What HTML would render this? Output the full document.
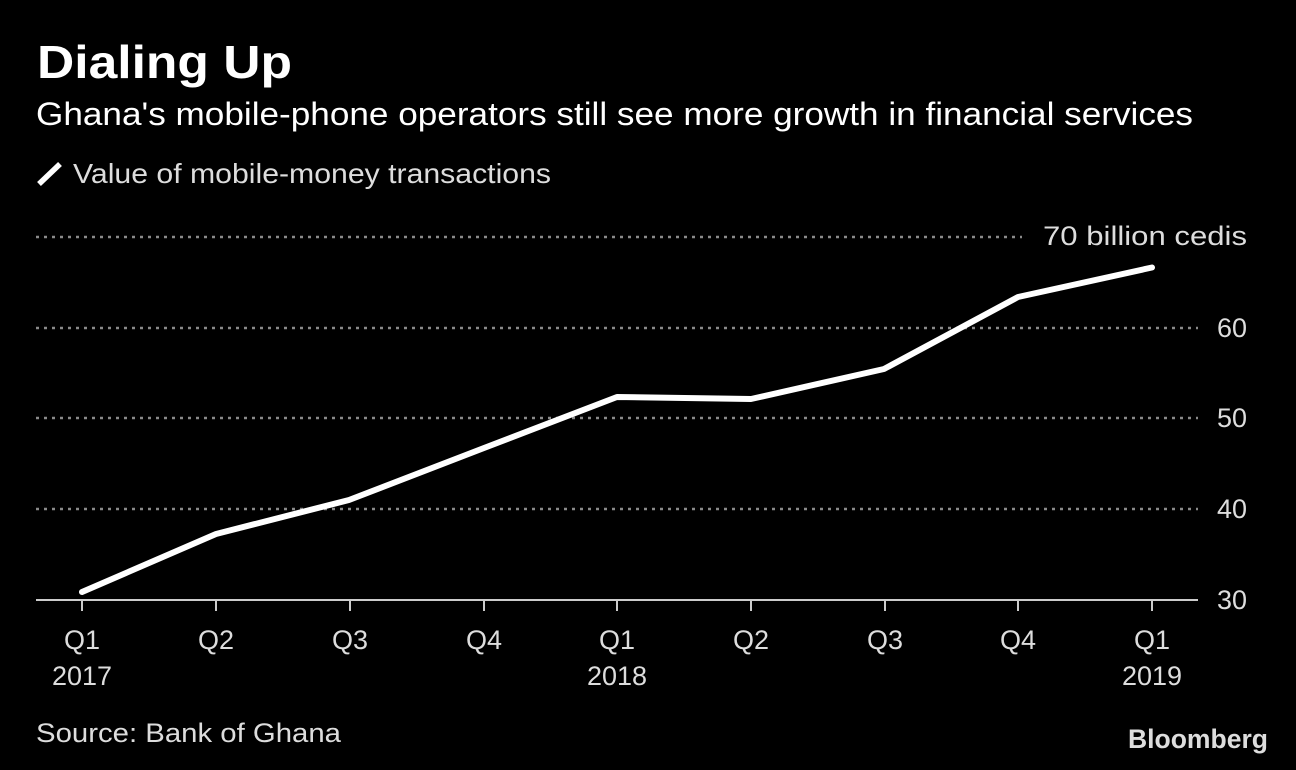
<!DOCTYPE html>
<html>
<head>
<meta charset="utf-8">
<style>
  html, body { margin: 0; padding: 0; background: #000; }
  svg { display: block; }
  text { font-family: "Liberation Sans", "DejaVu Sans", sans-serif; }
</style>
</head>
<body>
<svg width="1296" height="770" viewBox="0 0 1296 770" xmlns="http://www.w3.org/2000/svg">
  <rect x="0" y="0" width="1296" height="770" fill="#000"/>

  <!-- Title -->
  <text x="37" y="78" font-size="46" font-weight="bold" fill="#fff" textLength="255" lengthAdjust="spacingAndGlyphs">Dialing Up</text>
  <!-- Subtitle -->
  <text x="36" y="125" font-size="32" fill="#fff" textLength="1157" lengthAdjust="spacingAndGlyphs">Ghana's mobile-phone operators still see more growth in financial services</text>

  <!-- Legend -->
  <line x1="39" y1="184" x2="60" y2="164" stroke="#fff" stroke-width="5.5"/>
  <text x="73" y="183" font-size="28" fill="#ddd" textLength="478" lengthAdjust="spacingAndGlyphs">Value of mobile-money transactions</text>

  <!-- Gridlines -->
  <g stroke="#8a8a8a" stroke-width="2.5" stroke-dasharray="3 5">
    <line x1="36" y1="237" x2="1022" y2="237"/>
    <line x1="36" y1="328" x2="1198" y2="328"/>
    <line x1="36" y1="418" x2="1198" y2="418"/>
    <line x1="36" y1="509" x2="1198" y2="509"/>
  </g>

  <!-- Y labels -->
  <g font-size="27" fill="#ddd">
    <text x="1043" y="245" textLength="204" lengthAdjust="spacingAndGlyphs">70 billion cedis</text>
    <text x="1217" y="337" textLength="30" lengthAdjust="spacingAndGlyphs">60</text>
    <text x="1217" y="427" textLength="30" lengthAdjust="spacingAndGlyphs">50</text>
    <text x="1217" y="518" textLength="30" lengthAdjust="spacingAndGlyphs">40</text>
    <text x="1217" y="609" textLength="30" lengthAdjust="spacingAndGlyphs">30</text>
  </g>

  <!-- Axis -->
  <line x1="36" y1="600" x2="1198" y2="600" stroke="#ccc" stroke-width="2"/>
  <g stroke="#ccc" stroke-width="2">
    <line x1="82" y1="600" x2="82" y2="611"/>
    <line x1="216" y1="600" x2="216" y2="611"/>
    <line x1="350" y1="600" x2="350" y2="611"/>
    <line x1="484" y1="600" x2="484" y2="611"/>
    <line x1="617" y1="600" x2="617" y2="611"/>
    <line x1="751" y1="600" x2="751" y2="611"/>
    <line x1="885" y1="600" x2="885" y2="611"/>
    <line x1="1018" y1="600" x2="1018" y2="611"/>
    <line x1="1152" y1="600" x2="1152" y2="611"/>
  </g>

  <!-- X labels -->
  <g font-size="27" fill="#ddd" text-anchor="middle">
    <text x="82" y="649">Q1</text>
    <text x="82" y="685">2017</text>
    <text x="216" y="649">Q2</text>
    <text x="350" y="649">Q3</text>
    <text x="484" y="649">Q4</text>
    <text x="617" y="649">Q1</text>
    <text x="617" y="685">2018</text>
    <text x="751" y="649">Q2</text>
    <text x="885" y="649">Q3</text>
    <text x="1018" y="649">Q4</text>
    <text x="1152" y="649">Q1</text>
    <text x="1152" y="685">2019</text>
  </g>

  <!-- Data line -->
  <polyline points="82,592 216,534 349,500 484,448 617,397 751,399 884,369 1018,297 1152,267.5"
    fill="none" stroke="#fff" stroke-width="6" stroke-linejoin="round" stroke-linecap="round"/>

  <!-- Source -->
  <text x="36" y="742" font-size="27" fill="#ddd" textLength="305" lengthAdjust="spacingAndGlyphs">Source: Bank of Ghana</text>
  <!-- Bloomberg -->
  <text x="1128" y="748" font-size="27" font-weight="bold" fill="#ddd" textLength="140" lengthAdjust="spacingAndGlyphs">Bloomberg</text>
</svg>
</body>
</html>
